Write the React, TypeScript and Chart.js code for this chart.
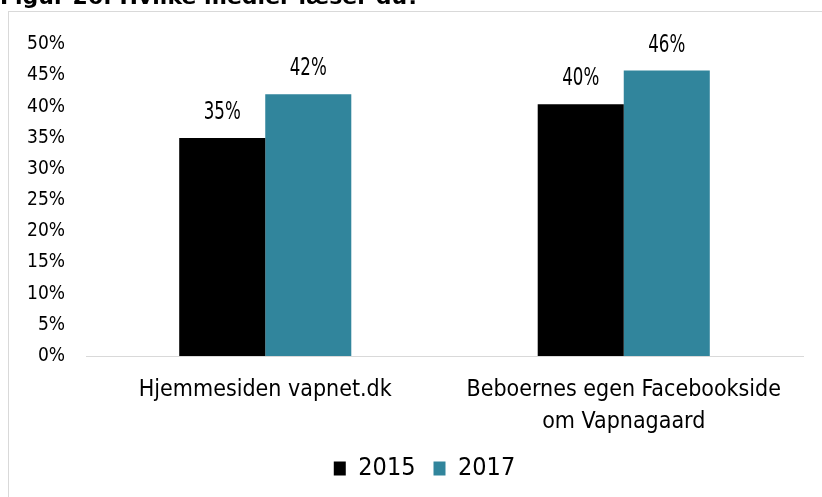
import React, { useEffect, useRef } from "react";
import { Chart, registerables } from "chart.js";

Chart.register(...registerables);

const title = "Figur 26: Hvilke medier læser du?";
const categories: (string | string[])[] = [
  "Hjemmesiden vapnet.dk",
  ["Beboernes egen Facebookside", "om Vapnagaard"],
];
const seriesNames = ["2015", "2017"];
const values2015 = [35, 40.4];
const values2017 = [42, 45.8];
const seriesColors = ["#000000", "#31859C"];
const yMax = 50;
const yStep = 5;

const AXIS_FONT = "'DejaVu Sans Condensed', 'DejaVu Sans', sans-serif";

const dataLabels = {
  id: "dataLabels",
  afterDatasetsDraw(chart: any) {
    const ctx = chart.ctx;
    chart.data.datasets.forEach((ds: any, di: number) => {
      const meta = chart.getDatasetMeta(di);
      meta.data.forEach((bar: any, i: number) => {
        const v = ds.data[i];
        ctx.save();
        ctx.font = `25px ${AXIS_FONT}`;
        ctx.fillStyle = "#000";
        ctx.textAlign = "center";
        ctx.textBaseline = "alphabetic";
        ctx.translate(bar.x, bar.y - 19);
        ctx.scale(0.74, 1);
        ctx.fillText(`${Math.round(v)}%`, 0, 0);
        ctx.restore();
      });
    });
  },
};

export default function App() {
  const ref = useRef<HTMLCanvasElement>(null);
  useEffect(() => {
    document.body.style.overflow = "hidden";
    const chart = new Chart(ref.current!, {
      type: "bar",
      data: {
        labels: categories,
        datasets: [
          {
            label: seriesNames[0],
            data: values2015,
            backgroundColor: seriesColors[0],
            categoryPercentage: 0.48,
            barPercentage: 1,
          },
          {
            label: seriesNames[1],
            data: values2017,
            backgroundColor: seriesColors[1],
            categoryPercentage: 0.48,
            barPercentage: 1,
          },
        ],
      },
      options: {
        animation: false,
        responsive: false,
        layout: { padding: { top: 29, right: 0, left: 18, bottom: 6 } },
        plugins: {
          tooltip: { enabled: false },
          legend: {
            position: "bottom",
            labels: {
              boxWidth: 12,
              boxHeight: 14,
              color: "#000",
              padding: 18,
              font: { family: AXIS_FONT, size: 25 },
            },
          },
        },
        scales: {
          x: {
            grid: { display: false, drawTicks: false },
            border: { display: true, color: "#d9d9d9", width: 1 },
            ticks: {
              color: "#000",
              padding: 18,
              maxRotation: 0,
              autoSkip: false,
              font: { family: AXIS_FONT, size: 23, lineHeight: 1.4 },
            },
            afterFit: (s: any) => {
              s.height = 82;
            },
          },
          y: {
            min: 0,
            max: yMax,
            grid: { display: false, drawTicks: false },
            border: { display: false },
            ticks: {
              stepSize: yStep,
              color: "#000",
              padding: 21,
              font: { family: AXIS_FONT, size: 19 },
              callback: (v: any) => `${v}%`,
            },
            afterFit: (s: any) => {
              s.width = 59;
            },
          },
          yRight: {
            position: "right",
            display: true,
            min: 0,
            max: yMax,
            grid: { display: false, drawTicks: false },
            border: { display: false },
            ticks: { display: false },
            afterFit: (s: any) => {
              s.width = 19;
            },
          },
        },
      },
      plugins: [dataLabels],
    });
    return () => chart.destroy();
  }, []);

  return (
    <div>
      <div
        style={{
          position: "fixed",
          left: 0,
          top: -14,
          fontFamily: "'DejaVu Sans', sans-serif",
          fontWeight: "bold",
          fontSize: 22,
          lineHeight: "22px",
          whiteSpace: "nowrap",
          color: "#000",
        }}
      >
        {title}
      </div>
      <div
        style={{
          position: "fixed",
          left: 8,
          top: 11,
          width: 830,
          height: 500,
          borderTop: "1px solid #d9d9d9",
          borderLeft: "1px solid #d9d9d9",
        }}
      >
        <canvas
          ref={ref}
          width={813}
          height={485}
          style={{ display: "block", width: 813, height: 485 }}
        />
      </div>
    </div>
  );
}
